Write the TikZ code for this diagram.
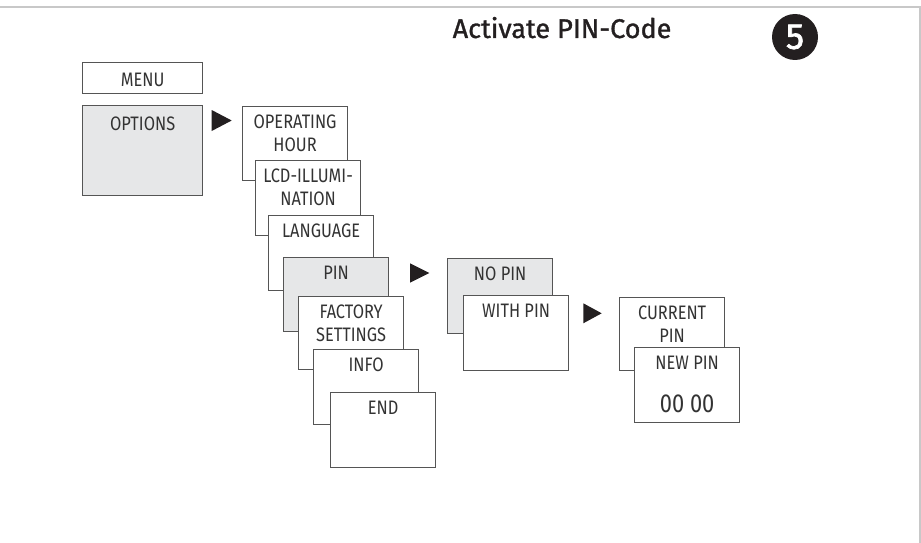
\documentclass[tikz,border=0pt]{standalone}
\usepackage{fontspec}
\setmainfont{Fira Sans}[FakeStretch=0.84]
\newfontfamily\titlefont{Fira Sans}[FakeBold=1.2]
\newfontfamily\numfont{Fira Sans}[FakeBold=2]
\usetikzlibrary{calc}
\definecolor{boxgray}{HTML}{E6E7E8}
\definecolor{linegray}{HTML}{555555}
\definecolor{framegray}{HTML}{C8C8C8}
\definecolor{ink}{HTML}{231F20}
\definecolor{boxink}{HTML}{333333}
\tikzset{
  menubox/.style={draw=linegray, line width=1.2pt, fill=white, rectangle, inner sep=0pt,
    minimum width=105pt, minimum height=75pt, anchor=north west},
  graybox/.style={menubox, fill=boxgray},
  boxtext/.style={inner sep=0pt, anchor=north, align=center, text=boxink,
    font=\fontsize{19.5}{23}\selectfont},
  arrowtri/.style={fill=ink, draw=none}
}
\begin{document}
\begin{tikzpicture}[x=1pt,y=-1pt]
\useasboundingbox (0,0) rectangle (921,543);
% frame
\draw[framegray, line width=1.5pt] (0,7) -- (920,7) -- (920,543);
% title
\node[anchor=base west, inner sep=0pt, text=ink, font=\titlefont\fontsize{27}{31}\selectfont] (title) at (452.5,38) {Activate PIN-Code};
\node[circle, fill=ink, minimum size=46pt, inner sep=0pt, text=white, font=\numfont\fontsize{36}{40}\selectfont] (num) at (795,37) {5};
% menu column
\node[menubox, minimum width=120pt, minimum height=31pt] (menu) at (82,62) {};
\node[boxtext, anchor=base] (tmenu) at ($(menu.north)+(0,24.5)$) {MENU};
\node[graybox, minimum width=120pt, minimum height=90pt] (opt) at (82,105) {};
\node[boxtext, anchor=base] (topt) at ($(opt.north)+(0,25)$) {OPTIONS};
% options list
\node[menubox, minimum height=74pt] (oph) at (242,106) {};
\node[boxtext] (toph) at ($(oph.north)+(0,9)$) {OPERATING\\HOUR};
\node[menubox] (lcd) at (255,160) {};
\node[boxtext] (tlcd) at ($(lcd.north)+(0,9)$) {LCD-ILLUMI-\\NATION};
\node[menubox] (lang) at (268,215) {};
\node[boxtext] (tlang) at ($(lang.north)+(0,9)$) {LANGUAGE};
\node[graybox, minimum height=74pt] (pin) at (283,257) {};
\node[boxtext] (tpin) at ($(pin.north)+(0,9)$) {PIN};
\node[menubox, minimum height=73pt] (fact) at (298,296) {};
\node[boxtext] (tfact) at ($(fact.north)+(0,9)$) {FACTORY\\SETTINGS};
\node[menubox] (info) at (313,349) {};
\node[boxtext] (tinfo) at ($(info.north)+(0,9)$) {INFO};
\node[menubox] (endb) at (330,392) {};
\node[boxtext] (tend) at ($(endb.north)+(0,9)$) {END};
% pin options
\node[graybox] (nopin) at (447,258) {};
\node[boxtext] (tnopin) at ($(nopin.north)+(0,9)$) {NO PIN};
\node[menubox] (withpin) at (463,295) {};
\node[boxtext] (twithpin) at ($(withpin.north)+(0,9)$) {WITH PIN};
\node[menubox, minimum height=73pt] (curpin) at (619,297) {};
\node[boxtext] (tcurpin) at ($(curpin.north)+(0,9)$) {CURRENT\\PIN};
\node[menubox] (newpin) at (634,347) {};
\node[boxtext] (tnewpin) at ($(newpin.north)+(0,9)$) {NEW PIN};
\node[boxtext, anchor=base, font=\fontsize{26}{30}\selectfont] (tcode) at ($(newpin.north)+(0,65)$) {00 00};
% triangles
\coordinate (a1) at (211.7,110);
\fill[arrowtri] (a1) -- ++(0,21) -- ++(20,-10.5) -- cycle;
\coordinate (a2) at (410,263.3);
\fill[arrowtri] (a2) -- ++(0,19.4) -- ++(19.3,-9.7) -- cycle;
\coordinate (a3) at (583.3,303.3);
\fill[arrowtri] (a3) -- ++(0,20) -- ++(18.4,-10) -- cycle;
\end{tikzpicture}
\end{document}
